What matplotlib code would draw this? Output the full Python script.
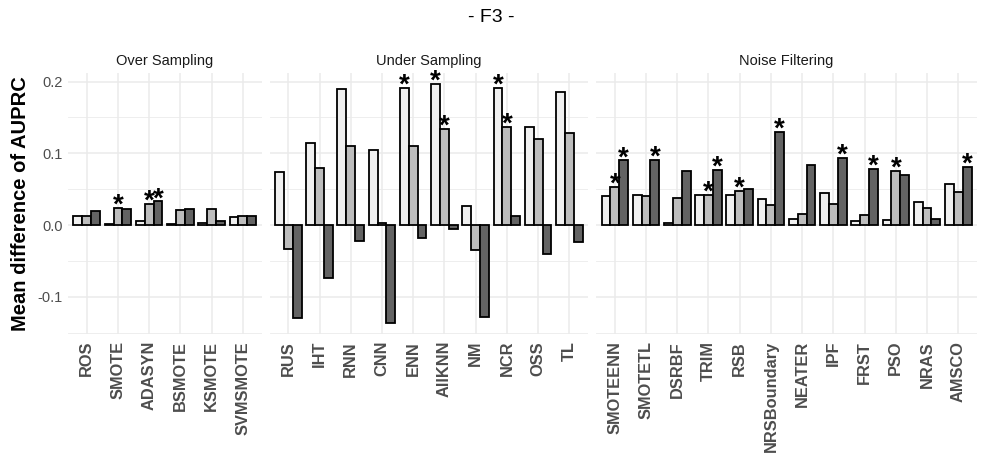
import matplotlib
matplotlib.use("Agg")
import matplotlib.pyplot as plt
import numpy as np

plt.rcParams["font.family"] = ["Liberation Sans", "DejaVu Sans"]

# ---- data ----
groups = ["Over Sampling", "Under Sampling", "Noise Filtering"]
over_methods = ["ROS", "SMOTE", "ADASYN", "BSMOTE", "KSMOTE", "SVMSMOTE"]
over_white = [0.013, 0.002, 0.006, 0.001, 0.003, 0.011]
over_light = [0.013, 0.024, 0.029, 0.021, 0.022, 0.013]
over_dark = [0.019, 0.022, 0.033, 0.022, 0.006, 0.012]
over_star_white = [0, 0, 0, 0, 0, 0]
over_star_light = [0, 1, 1, 0, 0, 0]
over_star_dark = [0, 0, 1, 0, 0, 0]

under_methods = ["RUS", "IHT", "RNN", "CNN", "ENN", "AllKNN", "NM", "NCR", "OSS", "TL"]
under_white = [0.074, 0.115, 0.189, 0.105, 0.191, 0.197, 0.026, 0.191, 0.137, 0.186]
under_light = [-0.034, 0.080, 0.110, 0.003, 0.110, 0.134, -0.035, 0.137, 0.120, 0.128]
under_dark = [-0.129, -0.074, -0.022, -0.137, -0.018, -0.005, -0.128, 0.013, -0.041, -0.023]
under_star_white = [0, 0, 0, 0, 1, 1, 0, 1, 0, 0]
under_star_light = [0, 0, 0, 0, 0, 1, 0, 1, 0, 0]
under_star_dark = [0, 0, 0, 0, 0, 0, 0, 0, 0, 0]

noise_methods = ["SMOTEENN", "SMOTETL", "DSRBF", "TRIM", "RSB", "NRSBoundary",
                 "NEATER", "IPF", "FRST", "PSO", "NRAS", "AMSCO"]
noise_white = [0.040, 0.042, 0.003, 0.042, 0.042, 0.036, 0.009, 0.045, 0.005, 0.007, 0.032, 0.057]
noise_light = [0.053, 0.041, 0.037, 0.042, 0.048, 0.0275, 0.016, 0.029, 0.0135, 0.075, 0.024, 0.046]
noise_dark = [0.090, 0.091, 0.076, 0.077, 0.050, 0.130, 0.083, 0.094, 0.078, 0.070, 0.009, 0.081]
noise_star_white = [0, 0, 0, 0, 0, 0, 0, 0, 0, 0, 0, 0]
noise_star_light = [1, 0, 0, 1, 1, 0, 0, 0, 0, 1, 0, 0]
noise_star_dark = [1, 1, 0, 1, 0, 1, 0, 1, 1, 0, 0, 1]

yticks = [-0.1, 0.0, 0.1, 0.2]
ytick_labels = ["-0.1", "0.0", "0.1", "0.2"]

panels = [
    (over_methods, [over_white, over_light, over_dark],
     [over_star_white, over_star_light, over_star_dark]),
    (under_methods, [under_white, under_light, under_dark],
     [under_star_white, under_star_light, under_star_dark]),
    (noise_methods, [noise_white, noise_light, noise_dark],
     [noise_star_white, noise_star_light, noise_star_dark]),
]
fills = ["#f0f0f0", "#bdbdbd", "#636363"]

# ---- layout ----
W, H = 982, 459
fig = plt.figure(figsize=(W / 100, H / 100), dpi=100)
left_px, right_px = 68, 977
top_px, bottom_px = 73, 334
gap = 8
units = [len(p[0]) + 0.2 for p in panels]
unit_w = (right_px - left_px - gap * (len(panels) - 1)) / sum(units)
ylim = (-0.152, 0.212)

grid_col = "#ebebeb"
x0 = left_px
axes = []
for i, ((methods, series, stars), u) in enumerate(zip(panels, units)):
    w = u * unit_w
    ax = fig.add_axes([x0 / W, 1 - bottom_px / H, w / W, (bottom_px - top_px) / H])
    x0 += w + gap
    axes.append(ax)
    n = len(methods)
    x = np.arange(n)
    bw = 0.85 / 3
    for k in range(3):
        xs = x + (k - 1) * bw
        ax.bar(xs, series[k], width=bw, color=fills[k], edgecolor="black",
               linewidth=1.3, zorder=3)
        for xi, v, s in zip(xs, series[k], stars[k]):
            if s:
                ax.annotate("*", (xi, max(v, 0)), xytext=(0, -3.5), textcoords="offset points",
                            ha="center", va="baseline", fontsize=20, fontweight="bold",
                            color="black", zorder=4)
    ax.set_xlim(-0.6, n - 0.4)
    ax.set_ylim(*ylim)
    ax.set_xticks(x)
    ax.set_xticklabels(methods, rotation=90, fontsize=11.8, fontweight="bold",
                       color="#4d4d4d")
    ax.set_yticks(yticks)
    ax.set_yticks([-0.15, -0.05, 0.05, 0.15], minor=True)
    if i == 0:
        ax.set_yticklabels(ytick_labels, fontsize=10.5, color="#4d4d4d")
    else:
        ax.set_yticklabels([])
    ax.tick_params(axis="both", length=0, pad=4)
    ax.tick_params(axis="x", pad=5)
    ax.tick_params(axis="y", which="minor", length=0)
    ax.grid(True, which="major", color=grid_col, linewidth=1.1, zorder=0)
    ax.grid(True, which="minor", axis="y", color=grid_col, linewidth=0.6, zorder=0)
    ax.set_axisbelow(True)
    for sp in ax.spines.values():
        sp.set_visible(False)
    ax.set_title(groups[i], fontsize=10.5, color="#1a1a1a", pad=6)

axes[0].set_ylabel("Mean difference of AUPRC", fontsize=14.5, fontweight="bold",
                   color="black", labelpad=5)
fig.text(0.5, 1 - 18 / H, "- F3 -", ha="center", va="center", fontsize=14, color="black")

fig.savefig("out.png", dpi=100)
